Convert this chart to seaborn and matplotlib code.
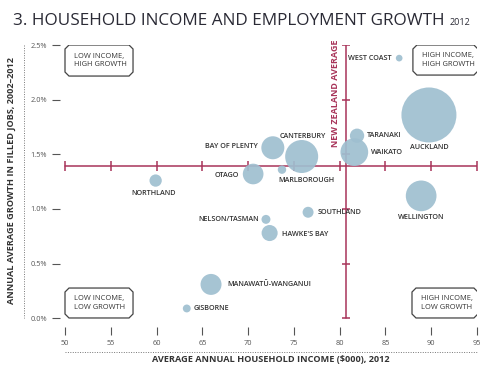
# Household income vs employment growth, NZ regions 2012
import seaborn as sns
import matplotlib.pyplot as plt
import pandas as pd
from matplotlib.patches import Polygon
from matplotlib.lines import Line2D

# data
regions = ['WEST COAST', 'AUCKLAND', 'TARANAKI', 'WAIKATO', 'CANTERBURY',
           'BAY OF PLENTY', 'MARLBOROUGH', 'OTAGO', 'NORTHLAND', 'WELLINGTON',
           'SOUTHLAND', 'NELSON/TASMAN', "HAWKE'S BAY", 'MANAWATŪ-WANGANUI', 'GISBORNE']
income = [86.5, 89.75, 81.9, 81.6, 75.85, 72.7, 73.7, 70.55, 59.9, 88.9,
          76.55, 71.95, 72.35, 65.95, 63.3]
growth = [2.38, 1.86, 1.67, 1.52, 1.48, 1.56, 1.36, 1.32, 1.26, 1.12,
          0.97, 0.905, 0.78, 0.31, 0.09]
jobs = [10, 680, 46, 173, 245, 119, 16, 96, 34, 212, 27, 18, 58, 99, 14]  # thousands, from bubble area

nz_income = 80.65
nz_growth = 1.39
x_ticks = [50, 55, 60, 65, 70, 75, 80, 85, 90, 95]
y_ticks = [0.0, 0.5, 1.0, 1.5, 2.0, 2.5]

df = pd.DataFrame({'region': regions, 'income': income, 'growth': growth, 'jobs': jobs})

# label offsets in pixels (dx, dy, ha)
label_pos = {
    'WEST COAST': (-8, 0, 'right'), 'AUCKLAND': (0, -33, 'center'),
    'TARANAKI': (10, 0, 'left'), 'WAIKATO': (17, 0, 'left'),
    'CANTERBURY': (1.5, 20, 'center'), 'BAY OF PLENTY': (-15, 1, 'right'),
    'MARLBOROUGH': (-4, -11, 'left'), 'OTAGO': (-14, -1, 'right'),
    'NORTHLAND': (-2, -13, 'center'), 'WELLINGTON': (0, -22, 'center'),
    'SOUTHLAND': (10, 0, 'left'), 'NELSON/TASMAN': (-7, 0, 'right'),
    "HAWKE'S BAY": (12, -1, 'left'), 'MANAWATŪ-WANGANUI': (16, 0, 'left'),
    'GISBORNE': (7, 0, 'left'),
}

sns.set_style('white')
plt.rcParams['font.family'] = ['Open Sans', 'DejaVu Sans']

red = '#a8345a'
txt = '#333333'
bubble = '#9fbfd0'

fig = plt.figure(figsize=(5, 3.75), dpi=100)
ax = fig.add_axes([0.12, 0.128, 0.834, 0.752])
ax.set_xlim(49.454, 95)
ax.set_ylim(-0.0795, 2.5)
for s in ax.spines.values():
    s.set_visible(False)

# average lines with tick marks
ax.plot([50, 95], [nz_growth, nz_growth], color=red, lw=1.1, zorder=1)
ax.plot(x_ticks, [nz_growth] * len(x_ticks), ls='none', marker='|', ms=7, mew=1.1, color=red, zorder=1)
ax.plot([nz_income, nz_income], [0, 2.5], color=red, lw=1.1, zorder=1)
ax.plot([nz_income] * len(y_ticks), y_ticks, ls='none', marker='_', ms=6, mew=1.1, color=red, zorder=1)
ax.text(79.5, 2.06, 'NEW ZEALAND AVERAGE', rotation=90, ha='center', va='center',
        color=red, fontsize=6.5, fontweight='bold')

sns.scatterplot(data=df, x='income', y='growth', size='jobs', sizes=(0, 1568),
                size_norm=(0, 680), color=bubble, edgecolor='none', alpha=0.92,
                legend=False, ax=ax, zorder=3, clip_on=False)

for r, xv, yv in zip(regions, income, growth):
    dx, dy, ha = label_pos[r]
    ax.annotate(r, (xv, yv), xytext=(dx * 0.72, dy * 0.72), textcoords='offset points',
                ha=ha, va='center', fontsize=5.2, color=txt, fontweight='semibold', zorder=4)

# axis ticks
ax.set_xticks(x_ticks)
ax.set_yticks(y_ticks)
ax.set_xticklabels([str(v) for v in x_ticks])
ax.set_yticklabels([f'{v:.1f}%' for v in y_ticks])
ax.tick_params(axis='both', length=5.8, width=0.8, color='#555555', labelsize=5.3,
               labelcolor='#555555', pad=3.5, direction='out')
ax.tick_params(axis='x', bottom=True)
ax.tick_params(axis='y', left=True)
ax.set_xlabel('')
ax.set_ylabel('')

# quadrant boxes
px_x = 9.156
px_y = 109.3


def quad_box(x0, x1, y0, y1, label):
    cx = 4 / px_x
    cy = 4 / px_y
    pts = [(x0 + cx, y0), (x1 - cx, y0), (x1, y0 + cy), (x1, y1 - cy),
           (x1 - cx, y1), (x0 + cx, y1), (x0, y1 - cy), (x0, y0 + cy)]
    ax.add_patch(Polygon(pts, closed=True, fc='white', ec='#444444', lw=0.9, zorder=2))
    ax.text(x0 + 9 / px_x, (y0 + y1) / 2, label, ha='left', va='center', fontsize=5.4,
            color=txt, linespacing=1.35, zorder=3)


quad_box(50.0, 57.43, 2.216, 2.5, 'LOW INCOME,\nHIGH GROWTH')
quad_box(88.0, 95.1, 2.225, 2.5, 'HIGH INCOME,\nHIGH GROWTH')
quad_box(50.0, 57.43, 0.003, 0.277, 'LOW INCOME,\nLOW GROWTH')
quad_box(87.9, 95.1, 0.003, 0.277, 'HIGH INCOME,\nLOW GROWTH')

# dotted guide lines and axis titles
W, H = 500, 375
fig.add_artist(Line2D([24 / W, 24 / W], [1 - 45 / H, 1 - 318 / H], ls=(0, (1, 1.5)), lw=0.7, color='#777777'))
fig.add_artist(Line2D([65 / W, 477 / W], [1 - 352 / H, 1 - 352 / H], ls=(0, (1, 1.5)), lw=0.7, color='#777777'))
fig.text(12 / W, 1 - 181 / H, 'ANNUAL AVERAGE GROWTH IN FILLED JOBS, 2002–2012', rotation=90,
         ha='center', va='center', fontsize=6.6, fontweight='bold', color=txt)
fig.text(271 / W, 1 - 359 / H, 'AVERAGE ANNUAL HOUSEHOLD INCOME ($000), 2012',
         ha='center', va='center', fontsize=6.6, fontweight='bold', color=txt)

# title, scaled so it spans about 432 px like the reference
t = fig.text(13 / W, 1 - 25 / H, '3. HOUSEHOLD INCOME AND EMPLOYMENT GROWTH', ha='left',
             va='baseline', fontsize=16, color='#2a2a35')
fig.canvas.draw()
w = t.get_window_extent().width
t.set_fontsize(16 * 432 / w)
fig.canvas.draw()
bb = t.get_window_extent()
fig.text((bb.x1 + 5) / W, 1 - 25 / H, '2012', ha='left', va='baseline', fontsize=6.5, color='#2a2a35')

plt.savefig('out.png', dpi=100)
